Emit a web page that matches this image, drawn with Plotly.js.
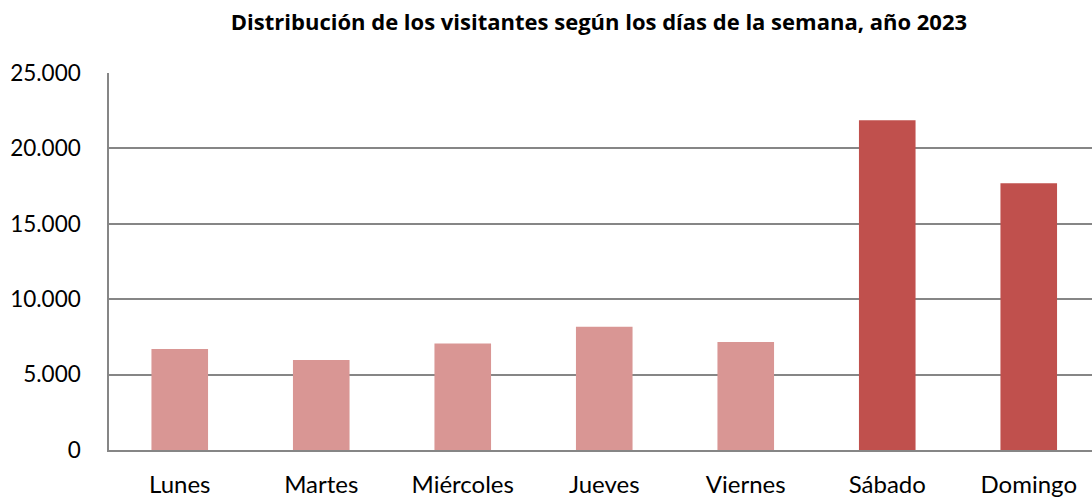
<!DOCTYPE html>
<html><head><meta charset="utf-8">
<script src="https://cdn.plot.ly/plotly-3.0.1.min.js"></script>
<style>html,body{margin:0;padding:0;overflow:hidden;background:#fff}</style>
</head><body>
<div id="chart" style="width:1092px;height:497px"></div>
<script>
const dias = ["Lunes","Martes","Miércoles","Jueves","Viernes","Sábado","Domingo"];
const visitantes = [6690, 5960, 7070, 8170, 7160, 21870, 17690];
const colores = ["#D99694","#D99694","#D99694","#D99694","#D99694","#C0504D","#C0504D"];
const yTicks = [0, 5000, 10000, 15000, 20000, 25000];

Plotly.newPlot("chart", [{
  type: "bar",
  x: dias,
  y: visitantes,
  marker: {color: colores, line: {width: 0}},
  hoverinfo: "x+y"
}], {
  width: 1092, height: 497,
  separators: ",.",
  font: {family: "Lato, 'Open Sans', sans-serif", color: "#000", size: 20},
  title: {text: "<b>Distribución de los visitantes según los días de la semana, año 2023</b>",
          font: {family: "'Open Sans', sans-serif", size: 22, color: "#000"},
          x: 0.5485, xanchor: "center", y: 0.955, yanchor: "middle"},
  margin: {l: 109, r: 0, t: 72.5, b: 47},
  bargap: 0.6,
  plot_bgcolor: "#fff", paper_bgcolor: "#fff",
  xaxis: {range: [-0.5, 6.447], showline: true, linecolor: "#868686", linewidth: 1.5,
          showgrid: false, ticks: "", ticklabelstandoff: 12, tickfont: {size: 24}},
  yaxis: {range: [0, 25000], tickvals: yTicks, tickformat: ",", showline: true,
          linecolor: "#868686", linewidth: 1.5, gridcolor: "#868686", gridwidth: 1.5,
          zeroline: false, ticks: "", ticklabelstandoff: 22, tickfont: {size: 22.5}},
  showlegend: false
}, {displayModeBar: false});
</script>
</body></html>
